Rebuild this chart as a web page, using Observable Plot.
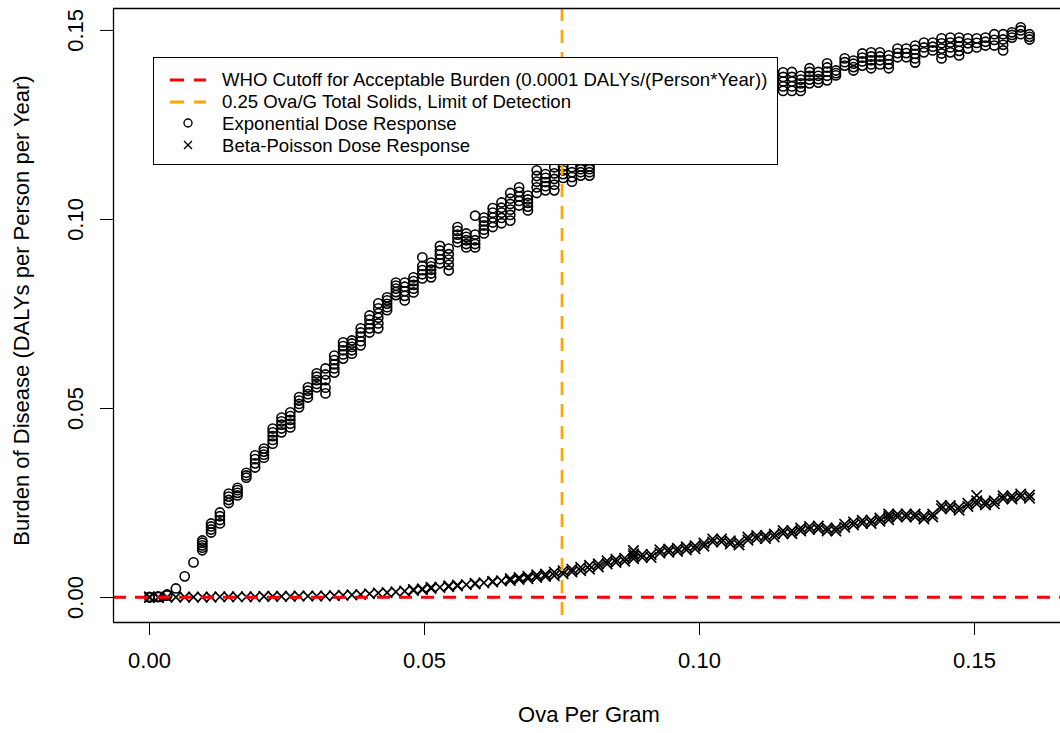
<!DOCTYPE html>
<html><head><meta charset="utf-8">
<script src="https://cdn.jsdelivr.net/npm/d3@7"></script>
<script src="https://cdn.jsdelivr.net/npm/@observablehq/plot@0.6"></script>
<style>
body{margin:0;background:#fff;font-family:"Liberation Sans",Arial,Helvetica,sans-serif;}
#wrap{position:relative;width:1060px;height:733px;overflow:hidden}
#legend{position:absolute;left:153px;top:57px;width:623px;height:106px;border:1.3px solid #000;background:#fff}
.row{position:absolute;left:0;width:620px;height:22px;font-size:18.6px;line-height:22px;color:#000}
.row svg{position:absolute;left:0;top:0}
.row span{position:absolute;left:68px;top:0;white-space:nowrap}
</style></head><body><div id="wrap"></div>
<script>
// ---- data ----
const xTitle = "Ova Per Gram";
const yTitle = "Burden of Disease (DALYs per Person per Year)";
const xTicks = [0, 0.05, 0.10, 0.15];
const yTicks = [0, 0.05, 0.10, 0.15];
const whoCutoff = 0.0001;
const detectionLimit = 0.075;
const legendLabels = [
  "WHO Cutoff for Acceptable Burden (0.0001 DALYs/(Person*Year))",
  "0.25 Ova/G Total Solids, Limit of Detection",
  "Exponential Dose Response",
  "Beta-Poisson Dose Response"
];
const ovaPerGram = [
  0, 0.0016, 0.0032, 0.0048, 0.0064, 0.008, 0.0096, 0.0112, 0.0128, 0.0144,
  0.016, 0.0176, 0.0192, 0.0208, 0.0224, 0.024, 0.0256, 0.0272, 0.0288, 0.0304,
  0.032, 0.0336, 0.0352, 0.0368, 0.0384, 0.04, 0.0416, 0.0432, 0.0448, 0.0464,
  0.048, 0.0496, 0.0512, 0.0528, 0.0544, 0.056, 0.0576, 0.0592, 0.0608, 0.0624,
  0.064, 0.0656, 0.0672, 0.0688, 0.0704, 0.072, 0.0736, 0.0752, 0.0768, 0.0784,
  0.08, 0.0816, 0.0832, 0.0848, 0.0864, 0.088, 0.0896, 0.0912, 0.0928, 0.0944,
  0.096, 0.0976, 0.0992, 0.1008, 0.1024, 0.104, 0.1056, 0.1072, 0.1088, 0.1104,
  0.112, 0.1136, 0.1152, 0.1168, 0.1184, 0.12, 0.1216, 0.1232, 0.1248, 0.1264,
  0.128, 0.1296, 0.1312, 0.1328, 0.1344, 0.136, 0.1376, 0.1392, 0.1408, 0.1424,
  0.144, 0.1456, 0.1472, 0.1488, 0.1504, 0.152, 0.1536, 0.1552, 0.1568, 0.1584,
  0.16
];
// Exponential dose response: replicate burdens at each ova level (points hidden by the legend omitted)
const expBurden = [
  [0, 0.0002], [0.0001, 0.0003], [0.0005, 0.0008], [0.0024], [0.0056],
  [0.0093], [0.0125, 0.0132, 0.0138, 0.0145, 0.0151], [0.0172, 0.0180, 0.0188, 0.0196],
  [0.0196, 0.0205, 0.0215, 0.0225], [0.0250, 0.0258, 0.0267, 0.0275],
  [0.0270, 0.0277, 0.0284, 0.0290], [0.0317, 0.0323, 0.0330],
  [0.0344, 0.0355, 0.0366, 0.0376], [0.0370, 0.0378, 0.0386, 0.0394],
  [0.0407, 0.0417, 0.0427, 0.0437, 0.0447], [0.0437, 0.0447, 0.0457, 0.0466, 0.0476],
  [0.0450, 0.0460, 0.0470, 0.0480, 0.0490], [0.0503, 0.0512, 0.0521, 0.0530],
  [0.0529, 0.0538, 0.0547, 0.0556], [0.0556, 0.0565, 0.0575, 0.0584, 0.0593],
  [0.0540, 0.0555, 0.0575, 0.0590, 0.0606], [0.0595, 0.0606, 0.0617, 0.0628, 0.0640],
  [0.0632, 0.0643, 0.0654, 0.0665, 0.0675], [0.0645, 0.0654, 0.0663, 0.0672, 0.0680],
  [0.0667, 0.0678, 0.0690, 0.0701, 0.0712], [0.0701, 0.0712, 0.0723, 0.0735, 0.0746],
  [0.0712, 0.0725, 0.0740, 0.0752, 0.0765, 0.0778], [0.0760, 0.0768, 0.0777, 0.0786, 0.0794],
  [0.0800, 0.0808, 0.0817, 0.0825, 0.0833], [0.0786, 0.0798, 0.0810, 0.0822, 0.0833],
  [0.0807, 0.0817, 0.0827, 0.0837, 0.0847], [0.0844, 0.0855, 0.0866, 0.0877, 0.0900],
  [0.0847, 0.0857, 0.0867, 0.0876, 0.0886], [0.0884, 0.0895, 0.0907, 0.0918, 0.0930],
  [0.0865, 0.0880, 0.0894, 0.0908, 0.0923], [0.0940, 0.0950, 0.0960, 0.0970, 0.0980],
  [0.0926, 0.0935, 0.0945, 0.0954, 0.0963], [0.0926, 0.0935, 0.0945, 0.0960, 0.1010],
  [0.0963, 0.0973, 0.0984, 0.0995, 0.1005], [0.0980, 0.0992, 0.1005, 0.1018, 0.1030],
  [0.0990, 0.1004, 0.1018, 0.1031, 0.1045], [0.0997, 0.1012, 0.1026, 0.1041, 0.1055, 0.1070],
  [0.1037, 0.1049, 0.1061, 0.1073, 0.1085], [0.1024, 0.1034, 0.1044, 0.1053, 0.1063],
  [0.1070, 0.1085, 0.1100, 0.1115, 0.1130], [0.1077, 0.1088, 0.1099, 0.1110, 0.1120],
  [0.1077, 0.1092, 0.1107, 0.1122, 0.1138], [0.1110, 0.1120, 0.1130, 0.1140],
  [0.1100, 0.1112, 0.1125, 0.1138], [0.1116, 0.1125, 0.1133, 0.1140],
  [0.1116, 0.1125, 0.1133, 0.1140],
  [], [], [], [], [], [], [], [], [], [], [], [], [], [], [], [], [], [], [], [], [],
  [0.1340, 0.1352, 0.1365, 0.1377, 0.1389], [0.1340, 0.1352, 0.1365, 0.1377, 0.1390],
  [0.1340, 0.1350, 0.1360, 0.1370, 0.1380], [0.1360, 0.1370, 0.1380, 0.1390, 0.1400],
  [0.1362, 0.1371, 0.1380, 0.1390], [0.1368, 0.1380, 0.1391, 0.1402, 0.1413],
  [0.1381, 0.1387, 0.1394], [0.1407, 0.1416, 0.1426],
  [0.1394, 0.1403, 0.1412, 0.1420], [0.1407, 0.1418, 0.1428, 0.1439],
  [0.1400, 0.1410, 0.1421, 0.1431, 0.1442], [0.1410, 0.1421, 0.1431, 0.1442],
  [0.1400, 0.1411, 0.1423, 0.1434], [0.1429, 0.1440, 0.1452],
  [0.1429, 0.1440, 0.1452], [0.1415, 0.1426, 0.1438, 0.1449, 0.1460],
  [0.1442, 0.1455, 0.1468], [0.1447, 0.1457, 0.1468],
  [0.1426, 0.1439, 0.1452, 0.1466, 0.1479], [0.1442, 0.1455, 0.1468, 0.1481],
  [0.1434, 0.1446, 0.1458, 0.1470, 0.1481], [0.1452, 0.1466, 0.1479],
  [0.1455, 0.1467, 0.1479], [0.1460, 0.1470, 0.1481],
  [0.1460, 0.1475, 0.1490], [0.1447, 0.1462, 0.1476, 0.1490],
  [0.1481, 0.1488, 0.1495], [0.1490, 0.1500, 0.1508],
  [0.1476, 0.1483, 0.1490]
];
// Beta-Poisson dose response
const bpBurden = [
  [0, 0.0002], [0, 0.0001], [0.0001], [0.0001], [0.0001], [0.0001], [0.0001], [0.0001],
  [0.0002], [0.0002], [0.0002], [0.0002], [0.0002], [0.0003], [0.0003], [0.0003],
  [0.0003], [0.0004], [0.0004], [0.0004], [0.0004], [0.0005], [0.0006], [0.0007],
  [0.0008], [0.0010], [0.0012], [0.0013], [0.0015], [0.0017],
  [0.0019, 0.0021], [0.0021, 0.0023], [0.0024, 0.0027], [0.0027], [0.0029, 0.0031],
  [0.0031, 0.0033], [0.0034], [0.0036, 0.0038], [0.0039], [0.0041, 0.0043],
  [0.0044], [0.0045, 0.0050], [0.0048, 0.0053], [0.0050, 0.0056], [0.0053, 0.0060],
  [0.0056, 0.0062], [0.0058, 0.0067], [0.0063, 0.0071], [0.0068, 0.0075], [0.0071, 0.0080],
  [0.0075, 0.0085], [0.0081, 0.0089], [0.0089, 0.0097], [0.0093, 0.0101], [0.0096, 0.0104],
  [0.0103, 0.0110, 0.0116, 0.0124], [0.0106, 0.0114], [0.0106, 0.0114], [0.0118, 0.0126],
  [0.0120, 0.0128], [0.0122, 0.0130], [0.0126, 0.0134], [0.0129, 0.0137], [0.0136, 0.0144],
  [0.0147, 0.0155], [0.0147, 0.0155], [0.0142, 0.0150], [0.0139, 0.0147], [0.0152, 0.0160],
  [0.0156, 0.0164], [0.0156, 0.0164], [0.0160, 0.0168], [0.0169, 0.0177], [0.0169, 0.0177],
  [0.0176, 0.0184], [0.0180, 0.0188], [0.0181, 0.0189], [0.0176, 0.0184], [0.0176, 0.0184],
  [0.0186, 0.0194], [0.0192, 0.0200], [0.0196, 0.0204], [0.0196, 0.0204], [0.0202, 0.0210],
  [0.0206, 0.0214, 0.0221], [0.0213, 0.0221], [0.0213, 0.0221], [0.0213, 0.0221],
  [0.0208, 0.0216], [0.0213, 0.0221], [0.0235, 0.0243], [0.0235, 0.0243], [0.0231, 0.0239],
  [0.0241, 0.0249], [0.0248, 0.0256, 0.0270], [0.0245, 0.0253], [0.0248, 0.0256],
  [0.0261, 0.0269], [0.0261, 0.0269], [0.0266, 0.0274], [0.0263, 0.0271]
];

// ---- build rows ----
const expRows = ovaPerGram.flatMap((x, i) => expBurden[i].map(y => ({x, y})));
const bpRows = ovaPerGram.flatMap((x, i) => bpBurden[i].map(y => ({x, y})));
const xDomain = [-0.006545, 0.165636];
const yDomain = [-0.0066, 0.1558];
const fmt = d3.format(".2f");
const FONT = '"Liberation Sans", Arial, Helvetica, sans-serif';

const chart = Plot.plot({
  width: 1060, height: 733,
  marginLeft: 113, marginRight: 0, marginTop: 8, marginBottom: 111,
  style: {fontFamily: FONT, fontSize: "22px", color: "#000", background: "#fff", overflow: "hidden"},
  x: {domain: xDomain},
  y: {domain: yDomain},
  marks: [
    Plot.dot(expRows, {x: "x", y: "y", r: 4.6, stroke: "#000", strokeWidth: 1.6, fill: "none"}),
    Plot.dot(bpRows, {x: "x", y: "y", r: 4.8, symbol: "times", stroke: "#000", strokeWidth: 1.7}),
    Plot.ruleY([whoCutoff], {stroke: "#FF0000", strokeWidth: 3, strokeDasharray: "13,9"}),
    Plot.ruleX([detectionLimit], {stroke: "#FFA500", strokeWidth: 2.7, strokeDasharray: "13,9"}),
    Plot.ruleX([xDomain[0]], {stroke: "#000", strokeWidth: 1.3}),
    Plot.ruleY(yDomain, {stroke: "#000", strokeWidth: 1.3}),
    Plot.axisX({ticks: xTicks, tickSize: 13, tickFormat: () => "", label: null}),
    Plot.axisY({ticks: yTicks, tickSize: 13, tickFormat: () => "", label: null}),
    Plot.text(xTicks, {x: d => d, frameAnchor: "bottom", dy: 45, text: d => fmt(d), fontSize: 22, textAnchor: "middle"}),
    Plot.text(yTicks, {y: d => d, frameAnchor: "left", dx: -38, rotate: -90, text: d => fmt(d), fontSize: 22, textAnchor: "middle"}),
    Plot.text([xTitle], {frameAnchor: "bottom", dx: 2, dy: 99, text: d => d, fontSize: 22, textAnchor: "middle"}),
    Plot.text([yTitle], {frameAnchor: "left", dx: -92, dy: -5, rotate: -90, text: d => d, fontSize: 22, textAnchor: "middle"})
  ]
});

const wrap = document.getElementById("wrap");
wrap.appendChild(chart);

// ---- legend (inside plot, top-left) ----
const legend = document.createElement("div");
legend.id = "legend";
const samples = [
  '<line x1="16" x2="52" y1="11" y2="11" stroke="#FF0000" stroke-width="3" stroke-dasharray="14,10"/>',
  '<line x1="16" x2="52" y1="11" y2="11" stroke="#FFA500" stroke-width="3" stroke-dasharray="14,10"/>',
  '<circle cx="34" cy="10" r="4" fill="none" stroke="#000" stroke-width="1.4"/>',
  '<path d="M30,6L38,14M38,6L30,14" stroke="#000" stroke-width="1.4"/>'
];
legendLabels.forEach((lab, i) => {
  const row = document.createElement("div");
  row.className = "row";
  row.style.top = (11 + i * 22) + "px";
  row.innerHTML = `<svg width="60" height="22">${samples[i]}</svg><span></span>`;
  row.querySelector("span").textContent = lab;
  legend.appendChild(row);
});
wrap.appendChild(legend);
</script>
</body></html>
